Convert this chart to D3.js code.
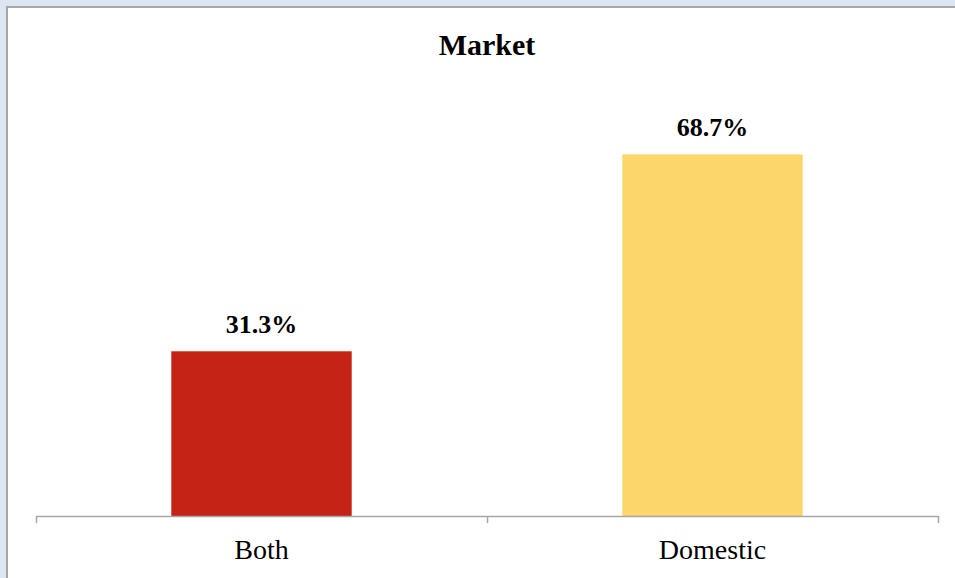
<!DOCTYPE html>
<html>
<head>
<meta charset="utf-8">
<script src="https://cdn.jsdelivr.net/npm/d3@7"></script>
<style>
  html, body { margin: 0; padding: 0; background: #dce6f2; }
  svg { display: block; }
</style>
</head>
<body>
<svg id="chart" width="955" height="578"></svg>
<script>
// Share of companies by market served
const categories = ["Both", "Domestic"];
const shares = [31.3, 68.7];
const barColors = ["#c42316", "#fcd66a"];
const chartTitle = "Market";

const W = 955, H = 578;
const svg = d3.select("#chart");
const serif = "'Palatino Linotype', 'Book Antiqua', Palatino, 'Liberation Serif', 'DejaVu Serif', serif";

// frame: pale blue margin, grey edge, white panel
svg.append("rect").attr("x", 0).attr("y", 0).attr("width", W).attr("height", H).attr("fill", "#dce6f2");
svg.append("rect").attr("x", 6).attr("y", 6).attr("width", W).attr("height", H).attr("fill", "#a6a6a6");
svg.append("rect").attr("x", 8).attr("y", 8).attr("width", W).attr("height", H).attr("fill", "#ffffff");

const plot = { left: 36, right: 938, top: 95, bottom: 516 };

const x = d3.scaleBand()
  .domain(categories)
  .range([plot.left, plot.right])
  .paddingInner(0.6)
  .paddingOuter(0.3);

const y = d3.scaleLinear().domain([0, 80]).range([plot.bottom, plot.top]);

// title
svg.append("text")
  .attr("x", (plot.left + plot.right) / 2)
  .attr("y", 55)
  .attr("text-anchor", "middle")
  .attr("font-family", serif)
  .attr("font-weight", "bold")
  .attr("font-size", 30)
  .attr("fill", "#000")
  .text(chartTitle);

// bars
const data = categories.map((c, i) => ({ cat: c, value: shares[i], color: barColors[i] }));
svg.append("g").selectAll("rect")
  .data(data)
  .join("rect")
  .attr("x", d => x(d.cat))
  .attr("y", d => y(d.value))
  .attr("width", x.bandwidth())
  .attr("height", d => y(0) - y(d.value))
  .attr("fill", d => d.color);

// value labels
svg.append("g").selectAll("text")
  .data(data)
  .join("text")
  .attr("x", d => x(d.cat) + x.bandwidth() / 2)
  .attr("y", d => y(d.value) - 18)
  .attr("text-anchor", "middle")
  .attr("font-family", serif)
  .attr("font-weight", "bold")
  .attr("font-size", 26)
  .attr("fill", "#000")
  .text(d => d.value.toFixed(1) + "%");

// category axis: ticks sit on band boundaries
const axisG = svg.append("g");
axisG.append("line")
  .attr("x1", plot.left).attr("x2", plot.right)
  .attr("y1", plot.bottom + 0.5).attr("y2", plot.bottom + 0.5)
  .attr("stroke", "#a6a6a6").attr("stroke-width", 1.5);
const step = x.step();
const boundaries = [plot.left, ...categories.slice(1).map(c => x(c) - step * x.paddingInner() / 2), plot.right];
axisG.selectAll("line.tick")
  .data(boundaries)
  .join("line")
  .attr("class", "tick")
  .attr("x1", d => Math.round(d) + 0.5).attr("x2", d => Math.round(d) + 0.5)
  .attr("y1", plot.bottom).attr("y2", plot.bottom + 7)
  .attr("stroke", "#a6a6a6").attr("stroke-width", 1.5);

axisG.selectAll("text")
  .data(categories)
  .join("text")
  .attr("x", d => x(d) + x.bandwidth() / 2)
  .attr("y", 559)
  .attr("text-anchor", "middle")
  .attr("font-family", serif)
  .attr("font-size", 28)
  .attr("fill", "#000")
  .text(d => d);
</script>
</body>
</html>
